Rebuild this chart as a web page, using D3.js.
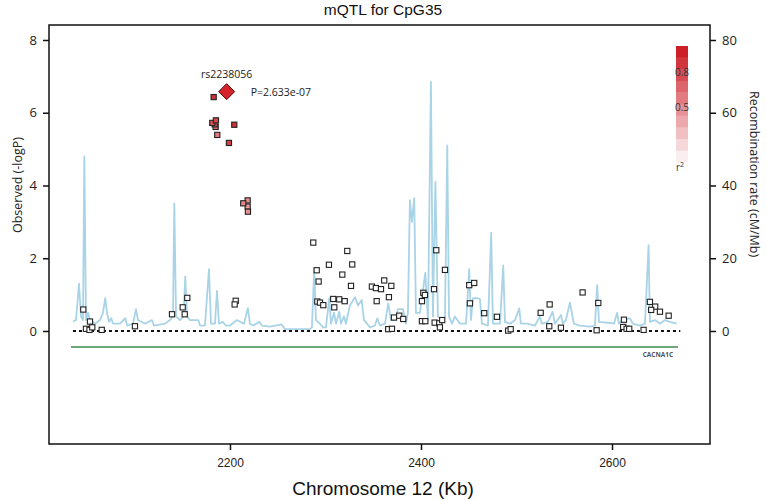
<!DOCTYPE html>
<html><head><meta charset="utf-8">
<script src="https://cdn.jsdelivr.net/npm/d3@7"></script>
<style>body{margin:0;background:#fff}</style>
</head><body><svg id="c" width="766" height="500"></svg>
<script>
// ---------------- data ----------------
const chartTitle = "mQTL for CpG35";
const xLabel = "Chromosome 12 (Kb)";
const yLabel = "Observed (-logP)";
const y2Label = "Recombination rate (cM/Mb)";
const xTicks = [2200, 2400, 2600];
const yTicks = [0, 2, 4, 6, 8];
const recombTicks = [0, 20, 40, 60, 80];
const legendBins = [0.1,0.2,0.3,0.4,0.5,0.6,0.7,0.8,0.9,1.0];
const legendLabels = [{v:0.8, t:"0.8"}, {v:0.5, t:"0.5"}];

const leadName = "rs2238056";
const leadPos = 2196.5;
const leadLogP = 6.58;
const leadP = "P=2.633e-07";

const snpPos = [
  2182.9,2185.3,2181.5,2184.0,2185.0,2204.5,2186.7,2198.9,2218.5,2213.9,2218.5,2218.8,
  2046.4,2053.4,2049.2,2052.9,2055.8,2065.7,2100.5,2139.3,2150.5,2152.6,2155.3,2206.0,2204.9,
  2287.2,2290.8,2292.8,2291.4,2294.2,2297.7,2303.6,2308.1,2309.2,2314.4,2320.1,2322.8,2317.6,
  2328.0,2326.7,2348.6,2352.8,2358.1,2361.5,2368.9,2353.6,2366.4,2371.7,2377.2,2381.4,2365.7,
  2369.6,2402.4,2404.1,2401.0,2401.0,2404.5,2413.6,2416.0,2425.1,2414.3,2419.1,2422.2,2419.8,
  2450.5,2455.7,2451.2,2466.2,2479.5,
  2491.3,2493.9,2525.3,2534.7,2534.3,2546.5,2569.2,2585.6,2583.9,2612.5,2611.7,2615.3,2618.0,
  2633.1,2639.7,2645.2,2641.0,2650.2,2659.3
];
const snpLogP = [
  6.43,5.79,5.72,5.68,5.61,5.67,5.39,5.17,3.59,3.51,3.42,3.28,
  0.59,0.26,0.06,0.03,0.10,0.03,0.13,0.46,0.65,0.46,0.91,0.83,0.73,
  2.43,1.67,1.36,0.81,0.78,0.71,1.82,0.88,0.65,0.87,0.82,2.20,1.55,
  1.83,1.24,1.22,1.18,1.15,1.39,1.24,0.82,0.93,0.37,0.42,0.33,0.05,
  0.06,1.05,0.99,0.82,0.27,0.27,1.15,2.22,1.68,0.23,0.21,0.30,0.10,
  1.26,1.32,0.76,0.49,0.39,
  0.01,0.05,0.50,0.73,0.13,0.09,1.06,0.77,0.02,0.31,0.11,0.06,0.06,
  0.03,0.80,0.67,0.58,0.53,0.42
];
const snpR2 = [
  0.92,0.8,0.75,0.7,0.65,0.92,0.55,0.85,0.45,0.5,0.4,0.45,
  0,0,0,0,0,0,0,0,0,0,0,0,0,
  0,0,0,0,0,0,0,0,0,0,0,0,0,
  0,0,0,0,0,0,0,0,0,0,0,0,0,
  0,0,0,0,0,0,0,0,0,0,0,0,0,
  0,0,0,0,0,
  0,0,0,0,0,0,0,0,0,0,0,0,0,
  0,0,0,0,0,0
];

const recombPos = [
  2035.6,2038.8,2041.9,2044.0,2046.1,2047.5,2049.2,2051.3,2053.4,2058.7,2063.9,2067.0,2069.4,2071.2,
  2073.3,2075.7,2077.5,2084.8,2090.4,2092.2,2098.4,2101.6,2103.7,2111.0,2118.3,2120.4,2131.9,2137.2,
  2140.3,2141.7,2143.5,2147.6,2151.3,2153.2,2155.0,2158.1,2164.4,2166.8,2168.6,2173.8,2178.0,2180.1,
  2184.3,2186.4,2188.5,2192.3,2195.8,2200.0,2207.3,2214.6,2218.8,2220.9,2224.4,2230.7,2233.5,2241.9,
  2254.1,2257.6,2283.7,2285.8,2288.2,2290.0,2294.2,2297.4,2300.5,2303.9,2305.7,2308.9,2311.0,2314.4,
  2316.2,2319.3,2321.4,2325.6,2330.9,2334.0,2337.9,2340.3,2346.6,2351.8,2354.2,2357.0,2362.3,2365.7,
  2368.5,2372.7,2375.9,2379.0,2381.1,2384.2,2386.3,2388.4,2390.5,2392.9,2394.7,2398.9,2404.5,2407.3,
  2410.4,2412.5,2415.1,2417.7,2421.9,2425.1,2427.5,2429.3,2432.4,2435.5,2440.8,2447.1,2450.5,2452.3,
  2454.4,2459.6,2461.7,2463.8,2470.1,2473.5,2475.3,2482.7,2486.1,2487.9,2493.1,2498.4,2502.9,2504.6,
  2510.9,2519.3,2524.5,2526.6,2532.9,2537.8,2540.2,2546.5,2548.6,2551.7,2555.9,2560.1,2566.4,2576.9,
  2582.1,2584.5,2586.3,2597.8,2602.0,2605.4,2607.2,2611.4,2618.7,2621.9,2629.2,2634.5,2638.3,2639.7,
  2644.9,2650.2,2655.4,2660.6,2667.6
];
const recombRate = [
  2.6,3.0,13.0,4.0,3.0,48.0,3.0,5.0,3.0,2.0,3.0,5.0,9.0,5.0,
  2.5,3.5,2.0,2.0,3.5,1.5,2.0,6.0,3.0,2.0,3.0,1.5,2.0,3.0,
  4.0,35.0,4.0,3.0,4.0,15.0,4.0,3.0,3.0,3.0,1.5,1.5,17.0,2.0,
  2.0,11.0,2.0,2.5,1.5,1.5,3.0,2.0,6.3,2.0,1.5,2.5,1.5,1.2,
  1.8,0.5,0.5,1.0,17.0,3.0,2.0,1.0,1.0,9.0,2.0,5.0,2.0,5.3,
  2.0,4.0,2.0,7.0,9.3,7.0,8.5,3.0,1.0,1.5,3.5,1.5,2.0,7.6,
  3.0,3.0,6.0,6.0,6.0,2.0,5.0,36.0,30.0,36.5,5.0,5.0,16.0,3.0,
  68.5,4.0,41.0,4.0,3.0,4.0,51.0,4.0,2.0,4.0,2.0,2.0,17.0,3.0,
  9.0,9.0,8.8,2.0,1.5,27.0,2.0,2.0,18.0,2.5,2.0,3.0,6.2,2.0,
  2.0,1.5,4.0,2.0,2.5,5.3,2.0,4.4,2.0,3.0,7.8,2.0,1.5,1.2,
  1.5,12.6,2.5,2.2,2.0,5.0,2.0,3.0,3.5,2.0,1.5,2.0,23.6,2.5,
  3.0,2.0,3.0,2.5,2.0
];

const geneName = "CACNA1C";
const geneStart = 2033.5;
const geneEnd = 2669.0;
const geneRow = -0.44;

// ---------------- drawing ----------------
const svg = d3.select("#c");
const L = 49, R = 710, T = 25, B = 444;
const x = d3.scaleLinear().domain([2010.5, 2702.6]).range([L, R]);
const y = d3.scaleLinear().domain([-3.107, 8.412]).range([B, T]);
const y2 = d3.scaleLinear().domain([-31.07, 84.12]).range([B, T]);

const lowC = "#fbecec", highC = "#cc1f27";
const colorOf = r => r <= 0.05 ? "#ffffff" : d3.interpolateRgb(lowC, highC)(Math.min(1, r));

const narrow = "'Liberation Sans Narrow','Arial Narrow','Liberation Sans',sans-serif";
const human = "'Open Sans','Noto Sans',sans-serif";

// title
svg.append("text").attr("x", 383).attr("y", 15).attr("text-anchor","middle")
  .attr("font-family", narrow).attr("font-size", 15.5).attr("fill","#111").text(chartTitle);

// recombination line
const recData = recombPos.map((p,i)=>[p, recombRate[i]]);
svg.append("path").datum(recData)
  .attr("d", d3.line().x(d=>x(d[0])).y(d=>y2(d[1])))
  .attr("fill","none").attr("stroke","#a9d3e6").attr("stroke-width",1.8)
  .attr("stroke-linejoin","round");

// dotted baseline
svg.append("line").attr("x1", x(recombPos[0])).attr("x2", x(2671.5))
  .attr("y1", y(0)).attr("y2", y(0))
  .attr("stroke","#111").attr("stroke-width",2).attr("stroke-dasharray","3,3");

// gene line
svg.append("line").attr("x1", x(geneStart)).attr("x2", x(geneEnd))
  .attr("y1", y(geneRow)).attr("y2", y(geneRow))
  .attr("stroke","#3f8b4a").attr("stroke-width",1.5);
svg.append("text").attr("x", x(2648)).attr("y", y(geneRow)+10).attr("text-anchor","middle")
  .attr("font-family", human).attr("font-size", 6.5).attr("font-weight","bold")
  .attr("fill","#555").text(geneName);

// SNP points (white first, colored on top)
const snps = snpPos.map((p,i)=>({p, v:snpLogP[i], r:snpR2[i]})).sort((a,b)=>a.r-b.r);
svg.append("g").selectAll("rect").data(snps).join("rect")
  .attr("x", d=>x(d.p)-2.6).attr("y", d=>y(d.v)-2.6)
  .attr("width",5.2).attr("height",5.2)
  .attr("fill", d=>colorOf(d.r)).attr("stroke","#222").attr("stroke-width",1.1);

// lead SNP diamond
const ds = 8;
svg.append("path")
  .attr("d", `M${x(leadPos)},${y(leadLogP)-ds} L${x(leadPos)+ds},${y(leadLogP)} L${x(leadPos)},${y(leadLogP)+ds} L${x(leadPos)-ds},${y(leadLogP)} Z`)
  .attr("fill","#d4242a").attr("stroke","#4a1010").attr("stroke-width",1);
svg.append("text").attr("x", x(leadPos)).attr("y", y(leadLogP)-14).attr("text-anchor","middle")
  .attr("font-family", human).attr("font-size", 10.5).attr("fill","#222").text(leadName);
svg.append("text").attr("x", x(leadPos)+24).attr("y", y(leadLogP)+4).attr("text-anchor","start")
  .attr("font-family", human).attr("font-size", 10.5).attr("fill","#222").text(leadP);

// frame
svg.append("rect").attr("x",L).attr("y",T).attr("width",R-L).attr("height",B-T)
  .attr("fill","none").attr("stroke","#111").attr("stroke-width",1.5);

// axes
const axStyle = g => {
  g.select(".domain").remove();
  g.selectAll(".tick line").attr("stroke","#111").attr("stroke-width",1.5);
  g.selectAll(".tick text").attr("fill","#222").attr("font-family", human).attr("font-size",13);
};
svg.append("g").attr("transform",`translate(${L},0)`)
  .call(d3.axisLeft(y).tickValues(yTicks).tickSize(6).tickPadding(6)).call(axStyle);
svg.append("g").attr("transform",`translate(${R},0)`)
  .call(d3.axisRight(y2).tickValues(recombTicks).tickSize(6).tickPadding(6)).call(axStyle);
const gx = svg.append("g").attr("transform",`translate(0,${B})`)
  .call(d3.axisBottom(x).tickValues(xTicks).tickFormat(d3.format("d")).tickSize(6).tickPadding(8)).call(axStyle);
gx.selectAll(".tick text").attr("font-family", narrow).attr("font-size",12);

// axis titles
svg.append("text").attr("x", 383).attr("y", 495).attr("text-anchor","middle")
  .attr("font-family", narrow).attr("font-size", 19).attr("fill","#111").text(xLabel);
svg.append("text").attr("transform","translate(22,185) rotate(-90)").attr("text-anchor","middle")
  .attr("font-family", human).attr("font-size", 12.5).attr("fill","#222").text(yLabel);
svg.append("text").attr("transform","translate(750,174) rotate(90)").attr("text-anchor","middle")
  .attr("font-family", human).attr("font-size", 12.5).attr("fill","#222").text(y2Label);

// r2 legend
const lg = svg.append("g");
const lgTop = 46, lgH = 116, lgX = 676, lgW = 12;
const band = lgH / legendBins.length;
lg.selectAll("rect").data(legendBins).join("rect")
  .attr("x", lgX).attr("width", lgW)
  .attr("y", (d,i)=> lgTop + lgH - (i+1)*band).attr("height", band+0.3)
  .attr("fill", (d,i)=> d3.interpolateRgb("#fbeef0", highC)(i/(legendBins.length-1)));
lg.selectAll("text.lab").data(legendLabels).join("text").attr("class","lab")
  .attr("x", lgX+6).attr("y", d=> lgTop + lgH*(1-d.v) + 7).attr("text-anchor","middle")
  .attr("font-family", human).attr("font-size", 10).attr("fill","#333").text(d=>d.t);
lg.append("text").attr("x", lgX+4).attr("y", lgTop+lgH+9).attr("text-anchor","middle")
  .attr("font-family", human).attr("font-size", 10).attr("fill","#333")
  .html('r<tspan dy="-4" font-size="7">2</tspan>');
</script></body></html>
